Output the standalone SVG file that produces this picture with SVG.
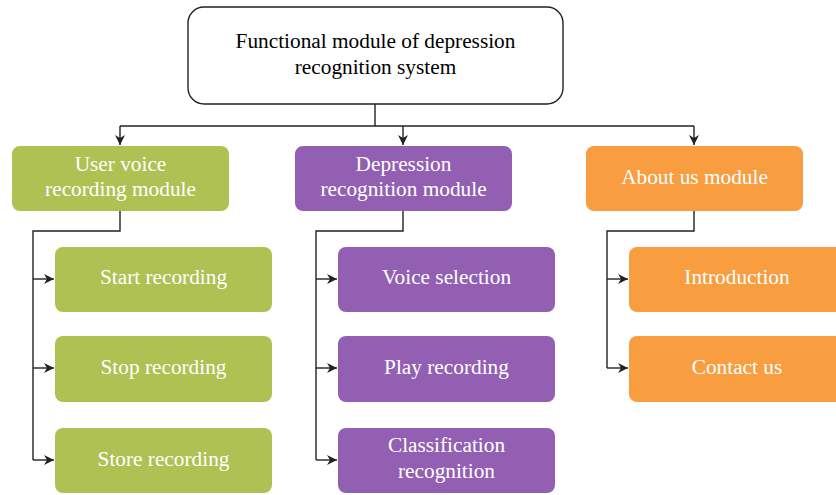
<svg xmlns="http://www.w3.org/2000/svg" width="836" height="495" viewBox="0 0 836 495">
<style>
text{font-family:"Liberation Serif","Times New Roman",serif;font-size:21.3px;text-anchor:middle;dominant-baseline:central}
.w{fill:#fff}
.g{fill:#afc152}
.p{fill:#925fb3}
.o{fill:#f99d41}
.c{fill:none;stroke:#222;stroke-width:1.4}
</style>
<defs>
<marker id="ah" viewBox="0 0 10 10" refX="10" refY="5" markerWidth="10" markerHeight="10" markerUnits="userSpaceOnUse" orient="auto">
<path d="M0,0 L10,5 L0,10 L3,5 Z" fill="#222"/>
</marker>
</defs>
<g id="connectors">
<path class="c" d="M375,104 V126"/>
<path class="c" d="M120,126 H694"/>
<path class="c" d="M120,126 V145" marker-end="url(#ah)"/>
<path class="c" d="M403,126 V145" marker-end="url(#ah)"/>
<path class="c" d="M694,126 V145" marker-end="url(#ah)"/>
<path class="c" d="M120,211 V231 H33 V460"/>
<path class="c" d="M33,279 H54" marker-end="url(#ah)"/>
<path class="c" d="M33,368 H54" marker-end="url(#ah)"/>
<path class="c" d="M33,460 H54" marker-end="url(#ah)"/>
<path class="c" d="M403,211 V231 H316 V460"/>
<path class="c" d="M316,279 H337" marker-end="url(#ah)"/>
<path class="c" d="M316,368 H337" marker-end="url(#ah)"/>
<path class="c" d="M316,460 H337" marker-end="url(#ah)"/>
<path class="c" d="M694,211 V231 H607 V368"/>
<path class="c" d="M607,279 H628" marker-end="url(#ah)"/>
<path class="c" d="M607,368 H628" marker-end="url(#ah)"/>
</g>
<g id="root">
<rect x="188" y="7" width="375" height="97" rx="16" fill="#fff" stroke="#222" stroke-width="1.4"/>
<text x="375.5" y="41">Functional module of depression</text>
<text x="375.5" y="67">recognition system</text>
</g>
<g id="user-voice">
<rect class="g" x="12" y="146" width="217" height="65" rx="8"/>
<text class="w" x="120.5" y="164">User voice</text>
<text class="w" x="120.5" y="189">recording module</text>
</g>
<g id="depression-rec">
<rect class="p" x="295" y="146" width="217" height="65" rx="8"/>
<text class="w" x="403.5" y="164">Depression</text>
<text class="w" x="403.5" y="189">recognition module</text>
</g>
<g id="about-us">
<rect class="o" x="586" y="146" width="217" height="65" rx="8"/>
<text class="w" x="694.5" y="177">About us module</text>
</g>
<g id="start-recording">
<rect class="g" x="55" y="247" width="217" height="65" rx="8"/>
<text class="w" x="163.5" y="277">Start recording</text>
</g>
<g id="stop-recording">
<rect class="g" x="55" y="336" width="217" height="66" rx="8"/>
<text class="w" x="163.5" y="367">Stop recording</text>
</g>
<g id="store-recording">
<rect class="g" x="55" y="428" width="217" height="65" rx="8"/>
<text class="w" x="163.5" y="459">Store recording</text>
</g>
<g id="voice-selection">
<rect class="p" x="338" y="247" width="217" height="65" rx="8"/>
<text class="w" x="446.5" y="277">Voice selection</text>
</g>
<g id="play-recording">
<rect class="p" x="338" y="336" width="217" height="66" rx="8"/>
<text class="w" x="446.5" y="367">Play recording</text>
</g>
<g id="classification">
<rect class="p" x="338" y="428" width="217" height="65" rx="8"/>
<text class="w" x="446.5" y="445">Classification</text>
<text class="w" x="446.5" y="471">recognition</text>
</g>
<g id="introduction">
<rect class="o" x="629" y="247" width="217" height="65" rx="8"/>
<text class="w" x="737" y="277">Introduction</text>
</g>
<g id="contact-us">
<rect class="o" x="629" y="336" width="217" height="66" rx="8"/>
<text class="w" x="737" y="367">Contact us</text>
</g>
</svg>
